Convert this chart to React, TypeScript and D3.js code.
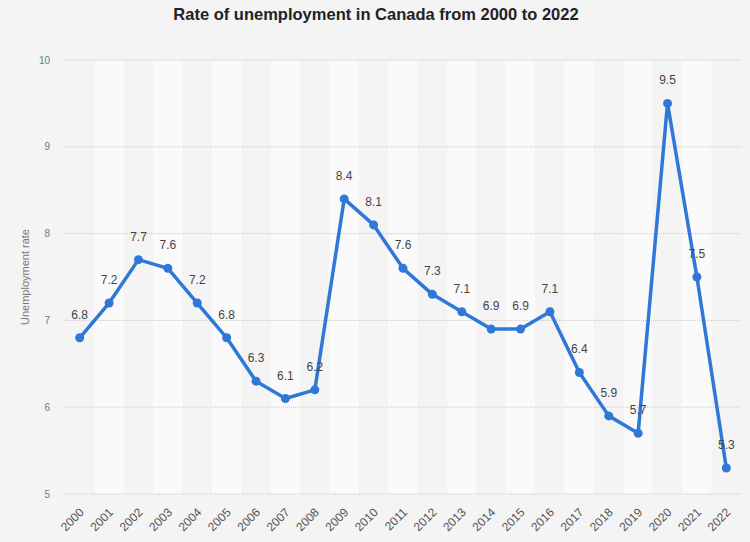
import React from 'react';
import * as d3 from 'd3';

const years = ['2000', '2001', '2002', '2003', '2004', '2005', '2006', '2007', '2008', '2009', '2010', '2011', '2012', '2013', '2014', '2015', '2016', '2017', '2018', '2019', '2020', '2021', '2022'];
const rates = [6.8, 7.2, 7.7, 7.6, 7.2, 6.8, 6.3, 6.1, 6.2, 8.4, 8.1, 7.6, 7.3, 7.1, 6.9, 6.9, 7.1, 6.4, 5.9, 5.7, 9.5, 7.5, 5.3];
const yTicks = [5, 6, 7, 8, 9, 10];

const width = 750;
const height = 542;
const margin = { top: 60, right: 9, bottom: 48, left: 65 };

const App = () => {
  const x = d3.scaleBand<string>()
    .domain(years)
    .range([margin.left, width - margin.right]);
  const y = d3.scaleLinear()
    .domain([5, 10])
    .range([height - margin.bottom, margin.top]);

  const cx = (d: string) => (x(d) as number) + x.bandwidth() / 2;
  const line = d3.line<number>()
    .x((d, i) => cx(years[i]))
    .y(d => y(d));

  const font = '"Liberation Sans", Arial, sans-serif';

  return (
    <div style={{ position: 'absolute', left: 0, top: 0 }}>
      <svg width={width} height={height} style={{ display: 'block', background: '#f4f4f5', fontFamily: font }}>
        {/* alternating column bands */}
        {years.map((d, i) => (
          <rect key={d} x={x(d)} y={margin.top} width={x.bandwidth()} height={y(5) - margin.top}
            fill={i % 2 === 1 ? '#fafafa' : '#f4f4f5'} />
        ))}
        {/* grid lines + y ticks */}
        {yTicks.map(t => (
          <g key={t}>
            <line x1={margin.left} x2={width - margin.right} y1={y(t)} y2={y(t)}
              stroke="#c8c8c8" strokeWidth={1} strokeDasharray="1,1" />
            <text x={50} y={y(t)} dy="0.35em" textAnchor="end" fontSize={10} fill="#777">{t}</text>
          </g>
        ))}
        <text transform={`translate(29,${(y(5) + y(10)) / 2}) rotate(-90)`} textAnchor="middle" fontSize={11} fill="#777">
          Unemployment rate
        </text>
        {/* x labels */}
        {years.map(d => (
          <text key={d} transform={`translate(${cx(d) + 5},${height - margin.bottom + 19}) rotate(-45)`}
            textAnchor="end" fontSize={12} fill="#555">{d}</text>
        ))}
        <path d={line(rates) || ''} fill="none" stroke="#2f78d8" strokeWidth={3.5} strokeLinejoin="round" />
        {rates.map((v, i) => (
          <circle key={i} cx={cx(years[i])} cy={y(v)} r={4.5} fill="#2f78d8" />
        ))}
        {rates.map((v, i) => (
          <text key={'l' + i} x={cx(years[i])} y={y(v) - 19} textAnchor="middle" fontSize={12} fill="#444">
            {v.toFixed(1)}
          </text>
        ))}
        <text x={376} y={20} textAnchor="middle" fontSize={16.5} fontWeight="bold" fill="#222">
          Rate of unemployment in Canada from 2000 to 2022
        </text>
      </svg>
    </div>
  );
};

export default App;
